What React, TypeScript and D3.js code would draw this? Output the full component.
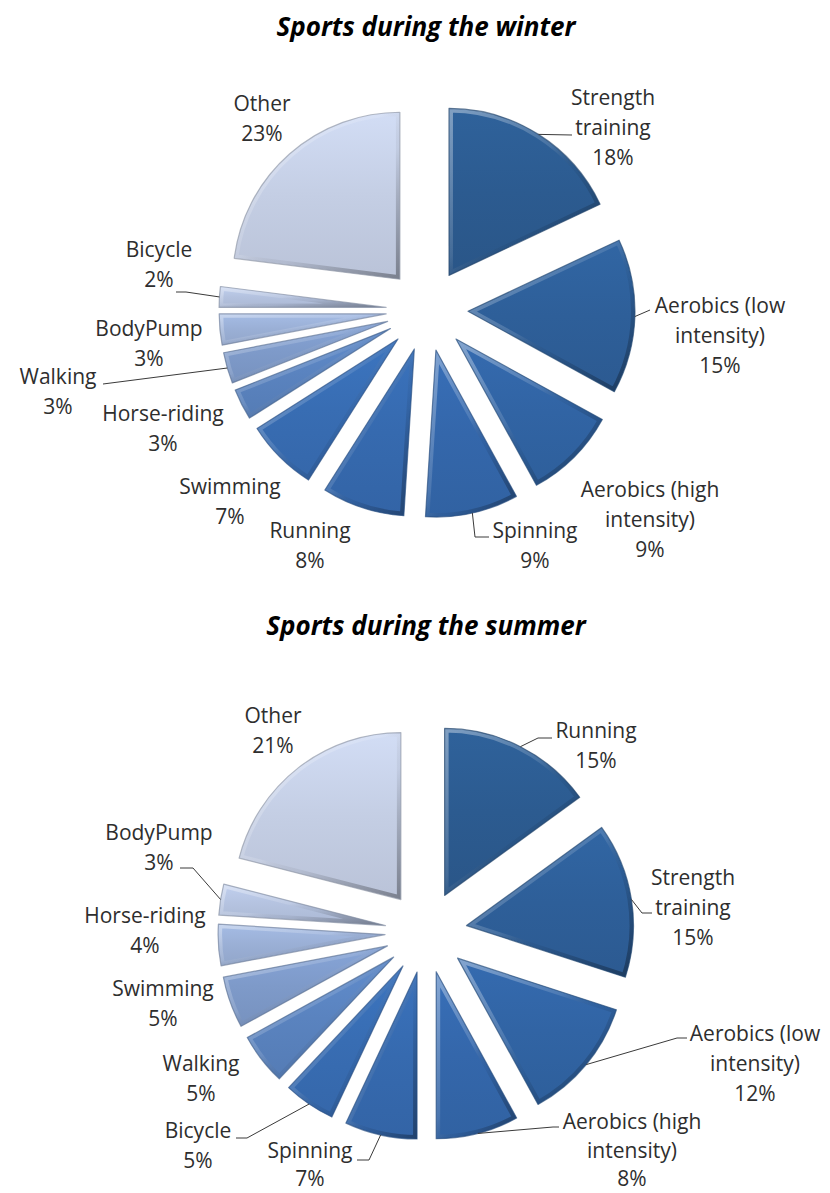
import React from 'react';
import * as d3 from 'd3';

// winter chart data
const winterCategories = [
  'Strength training',
  'Aerobics (low intensity)',
  'Aerobics (high intensity)',
  'Spinning',
  'Running',
  'Swimming',
  'Horse-riding',
  'Walking',
  'BodyPump',
  'Bicycle',
  'Other',
];
const winterValues = [18, 15, 9, 9, 8, 7, 3, 3, 3, 2, 23];

// summer chart data
const summerCategories = [
  'Running',
  'Strength training',
  'Aerobics (low intensity)',
  'Aerobics (high intensity)',
  'Spinning',
  'Bicycle',
  'Walking',
  'Swimming',
  'Horse-riding',
  'BodyPump',
  'Other',
];
const summerValues = [15, 15, 12, 8, 7, 5, 5, 5, 4, 3, 21];

// colours go by point index, dark to light
const palette = [
  '#2c5b90',
  '#2e5f99',
  '#3164a4',
  '#3467ab',
  '#366aaf',
  '#386db3',
  '#5a83bf',
  '#7e9ac9',
  '#9aafd5',
  '#b4c2df',
  '#c4cee4',
];

const labelLines: { [k: string]: string[] } = {
  'Strength training': ['Strength', 'training'],
  'Aerobics (low intensity)': ['Aerobics (low', 'intensity)'],
  'Aerobics (high intensity)': ['Aerobics (high', 'intensity)'],
};

interface LabelPos {
  x: number;
  y: number;
  lh?: number;
  leader?: [number, number][];
}

interface Layout {
  title: string;
  titleY: number;
  cx: number;
  cy: number;
  labels: { [k: string]: LabelPos };
}

const winterLayout: Layout = {
  title: 'Sports during the winter',
  titleY: 26,
  cx: 427,
  cy: 310,
  labels: {
    'Strength training': { x: 613, y: 97, leader: [[572, 135]] },
    'Aerobics (low intensity)': { x: 720, y: 305, leader: [[650, 310]] },
    'Aerobics (high intensity)': { x: 650, y: 489 },
    Spinning: { x: 535, y: 530, leader: [[475, 537], [489, 537]] },
    Running: { x: 310, y: 530 },
    Swimming: { x: 230, y: 486 },
    'Horse-riding': { x: 163, y: 413 },
    Walking: { x: 58, y: 376, leader: [[103, 384]] },
    BodyPump: { x: 149, y: 328 },
    Bicycle: { x: 159, y: 249, leader: [[186, 292], [176, 292]] },
    Other: { x: 262, y: 103 },
  },
};

const summerLayout: Layout = {
  title: 'Sports during the summer',
  titleY: 625,
  cx: 426,
  cy: 932,
  labels: {
    Running: { x: 596, y: 730, leader: [[538, 738], [552, 738]] },
    'Strength training': { x: 693, y: 877, leader: [[642, 913], [652, 913]] },
    'Aerobics (low intensity)': { x: 755, y: 1033, leader: [[677, 1038], [687, 1038]] },
    'Aerobics (high intensity)': { x: 632, y: 1121, lh: 28.5, leader: [[553, 1127], [559, 1127]] },
    Spinning: { x: 310, y: 1150, lh: 28, leader: [[369, 1160], [357, 1160]] },
    Bicycle: { x: 198, y: 1130, leader: [[247, 1138], [236, 1138]] },
    Walking: { x: 201, y: 1063 },
    Swimming: { x: 163, y: 988 },
    'Horse-riding': { x: 145, y: 915 },
    BodyPump: { x: 159, y: 832, leader: [[193, 868], [180, 868]] },
    Other: { x: 273, y: 715 },
  },
};

const RADIUS = 167;
const EXPLODE = 41;
const LINE_H = 30;
const FONT = "'Open Sans', 'Liberation Sans', sans-serif";

interface PieProps {
  id: string;
  categories: string[];
  values: number[];
  layout: Layout;
}

const ExplodedPie: React.FC<PieProps> = ({ id, categories, values, layout }) => {
  const pie = d3
    .pie<number>()
    .sort(null)
    .startAngle(0)
    .endAngle(2 * Math.PI)
    .value((d) => d);
  const arc = d3.arc<d3.PieArcDatum<number>>().innerRadius(0).outerRadius(RADIUS);
  const arcs = pie(values);
  const total = d3.sum(values);
  const line = d3.line();

  return (
    <g>
      <defs>
        {arcs.map((a, i) => {
          const c = d3.color(palette[i])!;
          return (
            <linearGradient key={i} id={`${id}-fill-${i}`} x1="0" y1="0" x2="0" y2="1">
              <stop offset="0" stopColor={c.brighter(0.2).formatHex()} />
              <stop offset="0.5" stopColor={palette[i]} />
              <stop offset="1" stopColor={c.darker(0.15).formatHex()} />
            </linearGradient>
          );
        })}
        {arcs.map((a, i) => (
          <clipPath key={i} id={`${id}-clip-${i}`}>
            <path d={arc(a) || ''} />
          </clipPath>
        ))}
      </defs>

      <text
        x={426}
        y={layout.titleY}
        textAnchor="middle"
        dominantBaseline="central"
        fontFamily={FONT}
        fontSize={26}
        fontWeight="bold"
        fontStyle="italic"
        fill="#000"
      >
        {layout.title}
      </text>

      {arcs.map((a, i) => {
        const mid = (a.startAngle + a.endAngle) / 2;
        const ox = layout.cx + Math.sin(mid) * EXPLODE;
        const oy = layout.cy - Math.cos(mid) * EXPLODE;
        const d = arc(a) || '';
        const stroke = d3.color(palette[i])!.darker(0.9).formatHex();
        return (
          <g key={i} transform={`translate(${ox},${oy})`}>
            <path d={d} fill={`url(#${id}-fill-${i})`} />
            <path
              d={d}
              fill="none"
              stroke="url(#rim)"
              strokeWidth={8}
              clipPath={`url(#${id}-clip-${i})`}
            />
            <path d={d} fill="none" stroke={stroke} strokeOpacity={0.65} strokeWidth={1.2} strokeLinejoin="round" />
          </g>
        );
      })}

      {arcs.map((a, i) => {
        const name = categories[i];
        const pos = layout.labels[name];
        if (!pos) return null;
        const mid = (a.startAngle + a.endAngle) / 2;
        const lines = [...(labelLines[name] || [name]), `${Math.round((values[i] / total) * 100)}%`];
        const lh = pos.lh || LINE_H;
        let leader = null;
        if (pos.leader) {
          const sx = layout.cx + Math.sin(mid) * (EXPLODE + RADIUS);
          const sy = layout.cy - Math.cos(mid) * (EXPLODE + RADIUS);
          const pts: [number, number][] = [[sx, sy], ...pos.leader];
          leader = <path d={line(pts) || ''} fill="none" stroke="#3a3a3a" strokeWidth={1} />;
        }
        return (
          <g key={`l${i}`}>
            {leader}
            <text
              textAnchor="middle"
              dominantBaseline="central"
              fontFamily={FONT}
              fontSize={21}
              fill="#2e2e2e"
            >
              {lines.map((t, j) => (
                <tspan key={j} x={pos.x} y={pos.y + j * lh}>
                  {t}
                </tspan>
              ))}
            </text>
          </g>
        );
      })}
    </g>
  );
};

const App: React.FC = () => {
  return (
    <svg
      width={830}
      height={1193}
      style={{ position: 'absolute', left: 0, top: 0, display: 'block', background: '#fff' }}
    >
      <defs>
        <linearGradient id="rim" x1="0" y1="0" x2="1" y2="1">
          <stop offset="0" stopColor="#fff" stopOpacity={0.4} />
          <stop offset="0.45" stopColor="#fff" stopOpacity={0.12} />
          <stop offset="0.6" stopColor="#000" stopOpacity={0.05} />
          <stop offset="1" stopColor="#000" stopOpacity={0.35} />
        </linearGradient>
      </defs>
      <ExplodedPie id="winter" categories={winterCategories} values={winterValues} layout={winterLayout} />
      <ExplodedPie id="summer" categories={summerCategories} values={summerValues} layout={summerLayout} />
    </svg>
  );
};

export default App;
